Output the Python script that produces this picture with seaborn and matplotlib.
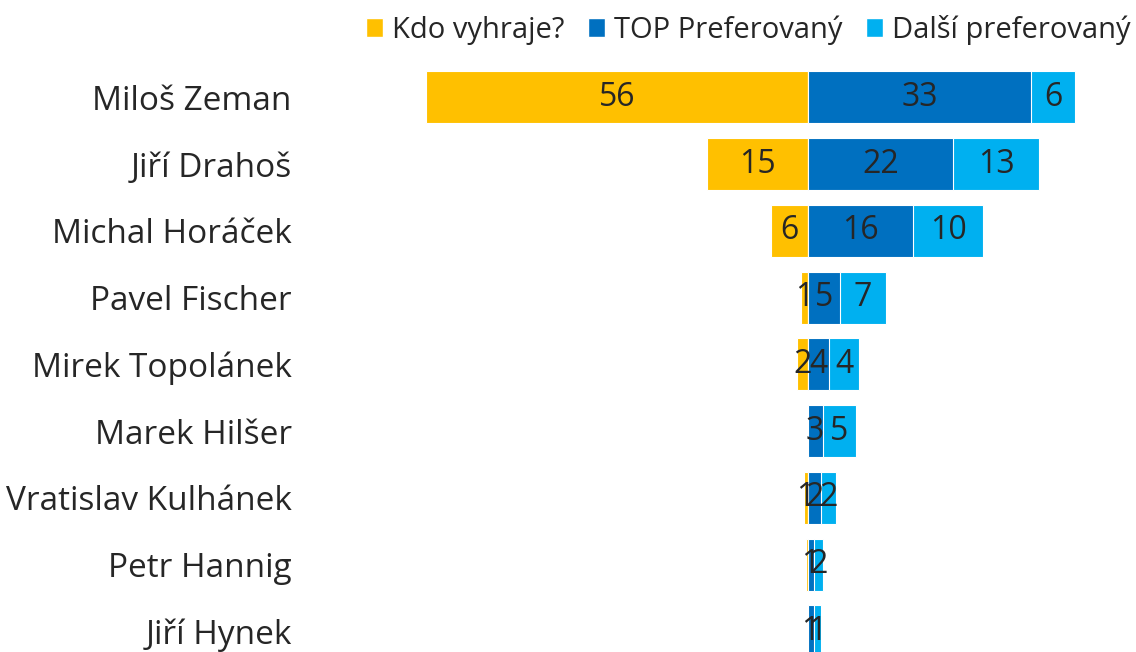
import numpy as np
import pandas as pd
import matplotlib
matplotlib.use("Agg")
import matplotlib.pyplot as plt
import seaborn as sns
from matplotlib.patches import Patch

# data
names = ["Miloš Zeman", "Jiří Drahoš", "Michal Horáček", "Pavel Fischer", "Mirek Topolánek",
         "Marek Hilšer", "Vratislav Kulhánek", "Petr Hannig", "Jiří Hynek"]
vyhraje = [56, 14.8, 5.4, 1, 1.5, 0, 0.6, 0.3, 0]
top_pref = [32.8, 21.4, 15.5, 4.7, 3.2, 2.2, 2, 0.9, 0.9]
dalsi_pref = [6.4, 12.5, 10.3, 6.8, 4.4, 4.9, 2.2, 1.4, 1]
vyhraje_lbl = ["56", "15", "6", "1", "2", "", "1", "", ""]
top_lbl = ["33", "22", "16", "5", "4", "3", "2", "1", "1"]
dalsi_lbl = ["6", "13", "10", "7", "4", "5", "2", "2", "1"]
series = ["Kdo vyhraje?", "TOP Preferovaný", "Další preferovaný"]
colors = ["#FFC000", "#0070C0", "#00B0F0"]

df = pd.DataFrame({"name": names,
                   "left": [-v for v in vyhraje],
                   "top": top_pref,
                   "total": np.array(top_pref) + np.array(dalsi_pref)})

sns.set_style("white")
plt.rcParams["font.family"] = ["Open Sans", "DejaVu Sans"]

fig = plt.figure(figsize=(11.36, 6.52), dpi=100)
ax = fig.add_axes([300 / 1136, 0, 836 / 1136, 588 / 652])

bw = 0.78
sns.barplot(data=df, x="left", y="name", color=colors[0], width=bw, saturation=1,
            edgecolor="white", linewidth=0.8, ax=ax)
sns.barplot(data=df, x="total", y="name", color=colors[2], width=bw, saturation=1,
            edgecolor="white", linewidth=0.8, ax=ax)
sns.barplot(data=df, x="top", y="name", color=colors[1], width=bw, saturation=1,
            edgecolor="white", linewidth=0.8, ax=ax)

txt = dict(ha="center", va="center", fontsize=23, color="#262626")
for i in range(len(names)):
    if vyhraje_lbl[i]:
        ax.text(-vyhraje[i] / 2, i, vyhraje_lbl[i], **txt)
    ax.text(top_pref[i] / 2, i, top_lbl[i], **txt)
    ax.text(top_pref[i] + dalsi_pref[i] / 2, i, dalsi_lbl[i], **txt)

ax.set_xlim(-74.5, 48.2)
ax.set_ylim(8.31, -0.5)
ax.set_xlabel("")
ax.set_ylabel("")
ax.set_xticks([])
ax.tick_params(axis="y", length=0, pad=6, labelsize=24, labelcolor="#262626")
sns.despine(ax=ax, left=True, bottom=True)

handles = [Patch(facecolor=c, label=s) for c, s in zip(colors, series)]
fig.legend(handles=handles, loc="upper right", bbox_to_anchor=(1.008, 1.0), ncol=3,
           frameon=False, fontsize=21, handlelength=0.6, handleheight=0.6,
           handletextpad=0.3, columnspacing=0.8, labelcolor="#262626", borderaxespad=0.1)

fig.savefig("out.png", dpi=100)
